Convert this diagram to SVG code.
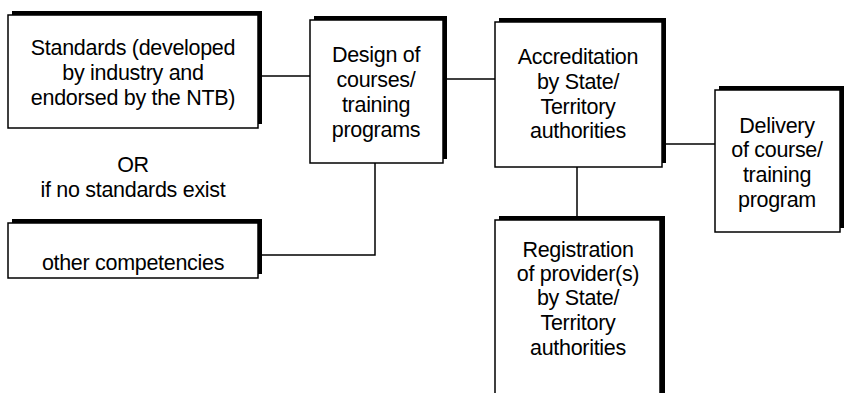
<svg xmlns="http://www.w3.org/2000/svg" width="846" height="393" viewBox="0 0 846 393">
<style>
.sh{fill:#000}
.bx{fill:#fff;stroke:#000;stroke-width:1.5}
text{font-family:"Liberation Sans",Arial,sans-serif;font-size:21.5px;letter-spacing:-0.3px;fill:#000;text-anchor:middle}
.cn{fill:none;stroke:#000;stroke-width:1.5}
</style>
<rect width="846" height="393" fill="#fff"/>
<g id="connectors">
<line class="cn" x1="258" y1="76" x2="310" y2="76"/>
<line class="cn" x1="443" y1="79" x2="495" y2="79"/>
<line class="cn" x1="662" y1="144" x2="715" y2="144"/>
<line class="cn" x1="577" y1="167" x2="577" y2="220"/>
<polyline class="cn" points="258,255 375,255 375,163"/>
</g>
<g id="standards">
<rect class="sh" x="12" y="11" width="250" height="113"/>
<rect class="bx" x="8" y="15" width="250" height="113"/>
<text x="133" y="55">Standards (developed</text>
<text x="133" y="80">by industry and</text>
<text x="133" y="105">endorsed by the NTB)</text>
</g>
<g id="or-note">
<text x="133" y="172">OR</text>
<text x="133" y="197">if no standards exist</text>
</g>
<g id="other">
<rect class="sh" x="12" y="219" width="250" height="55"/>
<rect class="bx" x="8" y="223" width="250" height="55"/>
<text x="133" y="270">other competencies</text>
</g>
<g id="design">
<rect class="sh" x="314" y="16" width="133" height="143"/>
<rect class="bx" x="310" y="20" width="133" height="143"/>
<text x="376" y="62">Design of</text>
<text x="376" y="87">courses/</text>
<text x="376" y="112">training</text>
<text x="376" y="137">programs</text>
</g>
<g id="accreditation">
<rect class="sh" x="499" y="18" width="167" height="145"/>
<rect class="bx" x="495" y="22" width="167" height="145"/>
<text x="578" y="64">Accreditation</text>
<text x="578" y="89">by State/</text>
<text x="578" y="114">Territory</text>
<text x="578" y="138">authorities</text>
</g>
<g id="delivery">
<rect class="sh" x="719" y="86" width="125" height="142"/>
<rect class="bx" x="715" y="90" width="125" height="142"/>
<text x="777" y="133">Delivery</text>
<text x="777" y="157">of course/</text>
<text x="777" y="182">training</text>
<text x="777" y="207">program</text>
</g>
<g id="registration">
<rect class="sh" x="499" y="216" width="166" height="190"/>
<rect class="bx" x="495" y="220" width="165" height="190"/>
<text x="578" y="257">Registration</text>
<text x="578" y="281">of provider(s)</text>
<text x="578" y="305">by State/</text>
<text x="578" y="330">Territory</text>
<text x="578" y="355">authorities</text>
</g>
</svg>
